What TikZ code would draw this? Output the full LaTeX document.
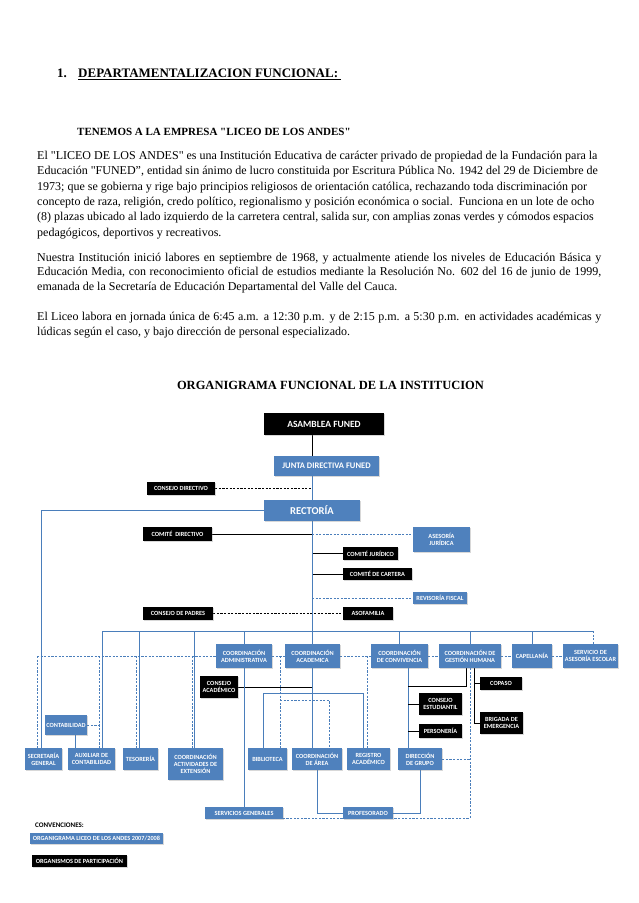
\documentclass[tikz,border=0pt]{standalone}
\usepackage{fontspec}
\setmainfont{Liberation Serif}[Ligatures=TeXOff]
\newfontfamily\orgfont{Carlito}
\usepackage{xcolor}
\usetikzlibrary{backgrounds,shadows}
\definecolor{orgblue}{RGB}{79,129,189}
\definecolor{linkblue}{RGB}{74,126,187}

\begin{document}
\begin{tikzpicture}[x=1pt,y=-1pt,
  orgbox/.style={inner sep=0pt,align=center,text=white,font=\orgfont\bfseries\fontsize{6.3}{7}\selectfont,
    drop shadow={shadow xshift=1pt,shadow yshift=-1pt,opacity=.3}},
  bluebox/.style={orgbox,fill=orgblue},
  blackbox/.style={orgbox,fill=black},
  sz/.style 2 args={minimum width=#1pt,minimum height=#2pt},
  fsz/.style={font=\orgfont\bfseries\fontsize{#1}{#1}\selectfont},
  bluelink/.style={draw=linkblue,line width=1pt},
  bluedash/.style={bluelink,dash pattern=on 2.2pt off 1.4pt},
  blacklink/.style={draw=black,line width=1pt},
  blackdash/.style={blacklink,dash pattern=on 2.2pt off 1.4pt},
  txt/.style={inner sep=0pt,anchor=base west,align=left,font=\fontsize{12}{15.3}\selectfont}]
\useasboundingbox (0,0) rectangle (638,903);

\node[txt,font=\bfseries\fontsize{13}{15}\selectfont] (num) at (57,77.5) {1.};
\node[txt,font=\bfseries\fontsize{13}{15}\selectfont] (head) at (78,77.5) {\underline{DEPARTAMENTALIZACION FUNCIONAL:\ }};
\node[txt,font=\bfseries\fontsize{11}{13}\selectfont] (tenemos) at (77,135) {TENEMOS A LA EMPRESA "LICEO DE LOS ANDES"};
\node[txt] (par1) at (37,236) {El "LICEO DE LOS ANDES" es una Institución Educativa de carácter privado de propiedad de la Fundación para la\\
Educación "FUNED”, entidad sin ánimo de lucro constituida por Escritura Pública No. 1942 del 29 de Diciembre de\\
1973; que se gobierna y rige bajo principios religiosos de orientación católica, rechazando toda discriminación por\\
concepto de raza, religión, credo político, regionalismo y posición económica o social.\ \ Funciona en un lote de ocho\\
(8) plazas ubicado al lado izquierdo de la carretera central, salida sur, con amplias zonas verdes y cómodos espacios\\
pedagógicos, deportivos y recreativos.};
\node[txt,font=\fontsize{12}{14.2}\selectfont] (par2) at (37,290) {\makebox[564pt][s]{Nuestra Institución inició labores en septiembre de 1968, y actualmente atiende los niveles de Educación Básica y}\\
\makebox[564pt][s]{Educación Media, con reconocimiento oficial de estudios mediante la Resolución No. 602 del 16 de junio de 1999,}\\
emanada de la Secretaría de Educación Departamental del Valle del Cauca.};
\node[txt,font=\fontsize{12}{14.2}\selectfont] (par3) at (37,335) {\makebox[564pt][s]{El Liceo labora en jornada única de 6:45 a.m. a 12:30 p.m. y de 2:15 p.m. a 5:30 p.m. en actividades académicas y}\\
lúdicas según el caso, y bajo dirección de personal especializado.};
\node[inner sep=0pt,anchor=base,font=\bfseries\fontsize{12.5}{14}\selectfont] (orgtitle) at (330.5,389) {ORGANIGRAMA FUNCIONAL DE LA INSTITUCION};

\node[blackbox,sz={120}{22},fsz=9.5] (asamblea) at (324,424) {ASAMBLEA FUNED};
\node[bluebox,sz={105}{20},fsz=8.5] (junta) at (326.5,466) {JUNTA DIRECTIVA FUNED};
\node[blackbox,sz={68}{13}] (cdir) at (181,488.5) {CONSEJO DIRECTIVO};
\node[bluebox,sz={96}{21},fsz=10.5] (rectoria) at (312,510.5) {RECTORÍA};
\node[blackbox,sz={69}{14}] (comdir) at (177.5,534) {COMITÉ\ \ DIRECTIVO};
\node[bluebox,sz={57}{25}] (asesoria) at (441.5,539.5) {ASESORÍA\\JURÍDICA};
\node[blackbox,sz={55}{13}] (comjur) at (370.5,553.5) {COMITÉ JURÍDICO};
\node[blackbox,sz={69}{12}] (comcart) at (377.5,574) {COMITÉ DE CARTERA};
\node[bluebox,sz={54}{12}] (revisoria) at (440,598) {REVISORÍA FISCAL};
\node[blackbox,sz={70}{13}] (cpadres) at (178,613.5) {CONSEJO DE PADRES};
\node[blackbox,sz={50}{13}] (asofam) at (368,613.5) {ASOFAMILIA};

\node[bluebox,sz={56}{24}] (cadm) at (244,656) {COORDINACIÓN\\ADMINISTRATIVA};
\node[bluebox,sz={55}{24}] (cacad) at (312.5,656) {COORDINACIÓN\\ACADEMICA};
\node[bluebox,sz={57}{24}] (cconv) at (399.5,656) {COORDINACIÓN\\DE CONVIVENCIA};
\node[bluebox,sz={62}{24}] (cgh) at (470,656) {COORDINACIÓN DE\\GESTIÓN HUMANA};
\node[bluebox,sz={40}{24}] (capell) at (532,656) {CAPELLANÍA};
\node[bluebox,sz={55}{24}] (sae) at (590.5,656) {SERVICIO DE\\ASESORÍA ESCOLAR};

\node[blackbox,sz={38}{22}] (cacadem) at (219,687) {CONSEJO\\ACADÉMICO};
\node[blackbox,sz={42}{13}] (copaso) at (501,683.5) {COPASO};
\node[blackbox,sz={43}{22}] (cestud) at (440.5,704) {CONSEJO\\ESTUDIANTIL};
\node[blackbox,sz={43}{22}] (brigada) at (501.5,723) {BRIGADA DE\\EMERGENCIA};
\node[blackbox,sz={43}{14}] (personeria) at (440.5,731) {PERSONERÍA};
\node[bluebox,sz={42}{20}] (contab) at (66,725) {CONTABILIDAD};

\node[bluebox,sz={37}{22}] (secgen) at (43.5,759) {SECRETARÍA\\GENERAL};
\node[bluebox,sz={47}{22}] (auxcont) at (91.5,759) {AUXILIAR DE\\CONTABILIDAD};
\node[bluebox,sz={35}{22}] (tesoreria) at (140.5,759) {TESORERÍA};
\node[bluebox,sz={55}{32}] (cactext) at (195.5,764) {COORDINACIÓN\\ACTIVIDADES DE\\EXTENSIÓN};
\node[bluebox,sz={39}{22}] (biblioteca) at (267.5,759) {BIBLIOTECA};
\node[bluebox,sz={50}{22}] (carea) at (317,759) {COORDINACIÓN\\DE ÁREA};
\node[bluebox,sz={43}{22}] (registro) at (368.5,759) {REGISTRO\\ACADÉMICO};
\node[bluebox,sz={44}{22}] (dirgrupo) at (420,759) {DIRECCIÓN\\DE GRUPO};
\node[bluebox,sz={78}{12}] (servgen) at (244,813) {SERVICIOS GENERALES};
\node[bluebox,sz={50}{12}] (profes) at (368,813) {PROFESORADO};

\node[inner sep=0pt,anchor=west,font=\orgfont\bfseries\fontsize{7}{8}\selectfont] (convenc) at (35,825) {CONVENCIONES:};
\node[bluebox,sz={133}{11}] (legblue) at (96.5,838.5) {ORGANIGRAMA LICEO DE LOS ANDES 2007/2008};
\node[blackbox,sz={95}{12}] (legblack) at (79.5,861) {ORGANISMOS DE PARTICIPACIÓN};

\coordinate (lft) at (41,512);
\coordinate (baux) at (102,631);
\coordinate (btes) at (139,631);
\coordinate (bext) at (194,631);
\coordinate (bsae) at (593,631);
\coordinate (dsec) at (37,656);
\coordinate (daux) at (99,656);
\coordinate (dtes) at (136,656);
\coordinate (dext) at (192,656);
\coordinate (kcont) at (75,725);
\coordinate (dbib) at (280,656);
\coordinate (darea) at (329,700);
\coordinate (dreg) at (367,656);
\coordinate (bbib) at (263,693);
\coordinate (breg) at (363,693);
\coordinate (kconv) at (408,668);
\coordinate (kgh) at (466,686);
\coordinate (kcop) at (474,668);
\coordinate (dgh) at (470,818);

\begin{scope}[on background layer]
\fill[white] (0,0) rectangle (638,903);
\draw[blacklink] (asamblea.south -| rectoria) -- (junta.north -| rectoria);
\draw[bluelink] (junta.south -| rectoria) -- (rectoria.north);
\draw[blackdash] (cdir.east) -- (cdir.east -| rectoria);
\draw[blacklink] (comdir.east) -- (comdir.east -| rectoria);
\draw[bluedash] (comdir.east -| rectoria) -- (comdir.east -| asesoria.west);
\draw[blacklink] (comjur.west -| rectoria) -- (comjur.west);
\draw[blacklink] (comcart.west -| rectoria) -- (comcart.west);
\draw[bluedash] (revisoria.west -| rectoria) -- (revisoria.west);
\draw[blackdash] (cpadres.east) -- (asofam.west);
\draw[bluelink] (rectoria.south) -- (rectoria.south |- cacad.north);

\draw[bluelink] (rectoria.west) -- (rectoria.west -| lft) -- (lft |- secgen.north);
\draw[bluelink] (baux) -- (bsae);
\draw[bluelink] (baux) -- (baux |- auxcont.north);
\draw[bluelink] (btes) -- (btes |- tesoreria.north);
\draw[bluelink] (bext) -- (bext |- cactext.north);
\draw[bluelink] (cadm.north |- baux) -- (cadm.north);
\draw[bluelink] (cconv.north |- baux) -- (cconv.north);
\draw[bluelink] (cgh.north |- baux) -- (cgh.north);
\draw[bluelink] (capell.north |- baux) -- (capell.north);
\draw[bluedash] (bsae) -- (bsae |- sae.north);

\draw[bluedash] (dsec) -- (cadm.west);
\draw[bluedash] (dsec) -- (dsec |- secgen.north);
\draw[bluedash] (daux) -- (daux |- auxcont.north);
\draw[bluedash] (dtes) -- (dtes |- tesoreria.north);
\draw[bluedash] (dext) -- (dext |- cactext.north);
\draw[bluedash] (contab.east) -- (contab.east -| daux);
\draw[bluelink] (contab.south -| kcont) -- (auxcont.north -| kcont);

\draw[bluedash] (cadm.east) -- (cacad.west);
\draw[bluedash] (cacad.east) -- (cconv.west);
\draw[bluedash] (cconv.east) -- (cgh.west);
\draw[bluedash] (cgh.east) -- (capell.west);
\draw[bluedash] (capell.east) -- (sae.west);

\draw[blacklink] (cacadem.east) -- (cacadem.east -| cacad);
\draw[bluelink] (cacad.south) -- (cacad.south |- carea.north);
\draw[bluelink] (bbib |- biblioteca.north) -- (bbib) -- (breg) -- (breg |- registro.north);
\draw[bluedash] (dbib) -- (dbib |- biblioteca.north);
\draw[bluedash] (darea -| dbib) -- (darea) -- (darea |- carea.north);
\draw[bluedash] (dreg) -- (dreg |- registro.north);
\draw[bluelink] (cadm.south) -- (cadm.south |- servgen.north);

\draw[bluelink] (kconv |- cconv.south) -- (kconv |- dirgrupo.north);
\draw[blacklink] (kconv |- cestud.west) -- (cestud.west);
\draw[blacklink] (kconv |- personeria.west) -- (personeria.west);
\draw[blacklink] (kgh |- cgh.south) -- (kgh) -- (kgh -| kconv);
\draw[blacklink] (kcop |- cgh.south) -- (kcop |- brigada.west) -- (brigada.west);
\draw[blacklink] (kcop |- copaso.west) -- (copaso.west);
\draw[bluedash] (dgh |- cgh.south) -- (dgh) -- (dgh -| servgen.east);
\draw[bluedash] (dirgrupo.east) -- (dirgrupo.east -| dgh);
\draw[bluelink] (carea.south) |- (profes.west);
\draw[bluelink] (dirgrupo.south) |- (profes.east);
\end{scope}
\end{tikzpicture}
\end{document}
